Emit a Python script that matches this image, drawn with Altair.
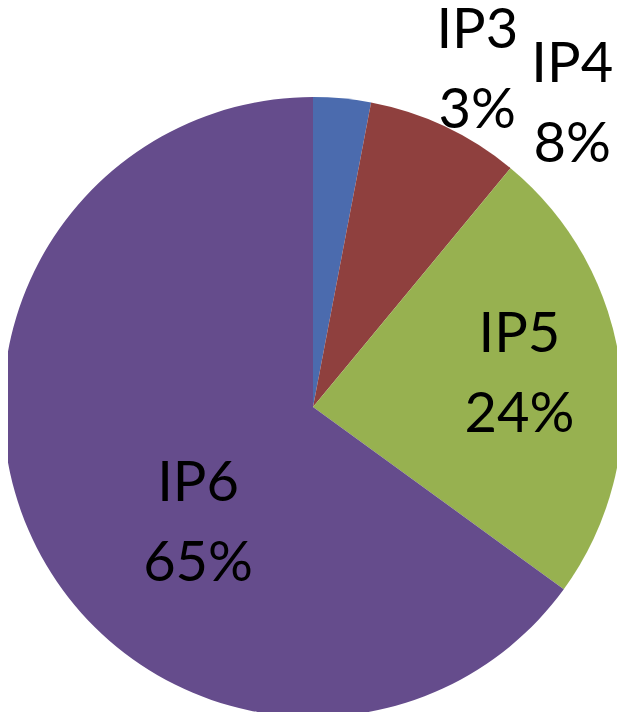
import altair as alt
import pandas as pd

categories = ["IP3", "IP4", "IP5", "IP6"]
values = [3, 8, 24, 65]
colors = ["#4B6BAE", "#8F403E", "#97B150", "#654C8C"]

df = pd.DataFrame({
    "cat": categories,
    "val": values,
    "idx": list(range(len(categories))),
    "label": [f"{c}\n{v}%" for c, v in zip(categories, values)],
})

CX, CY = 305, 399

base = alt.Chart(df).encode(
    theta=alt.Theta("val:Q", stack=True),
    order=alt.Order("idx:Q", sort="ascending"),
    x=alt.value(CX),
    y=alt.value(CY),
)

pie = base.mark_arc(stroke=None).encode(
    radius=alt.value(310),
    color=alt.Color("cat:N", scale=alt.Scale(domain=categories, range=colors), legend=None),
)

label_cfg = {
    "IP3": dict(r=343, dx=132, dy=-35),
    "IP4": dict(r=334, dx=117, dy=-40),
    "IP5": dict(r=207, dx=1, dy=-46),
    "IP6": dict(r=129, dx=0, dy=18),
}

layers = [pie]
for c in categories:
    cfg = label_cfg[c]
    layers.append(
        base.mark_text(
            font="Lato", fontSize=56, color="black", lineBreak="\n", lineHeight=80,
            align="center", baseline="middle", dx=cfg["dx"], dy=cfg["dy"],
        ).encode(
            radius=alt.value(cfg["r"]),
            text=alt.condition(alt.datum.cat == c, "label:N", alt.value("")),
        )
    )

chart = alt.layer(*layers).properties(
    width=609, height=704, padding=0, autosize="none"
).configure_view(stroke=None)

chart.save("out.html", embed_options={"renderer": "svg", "actions": False})
